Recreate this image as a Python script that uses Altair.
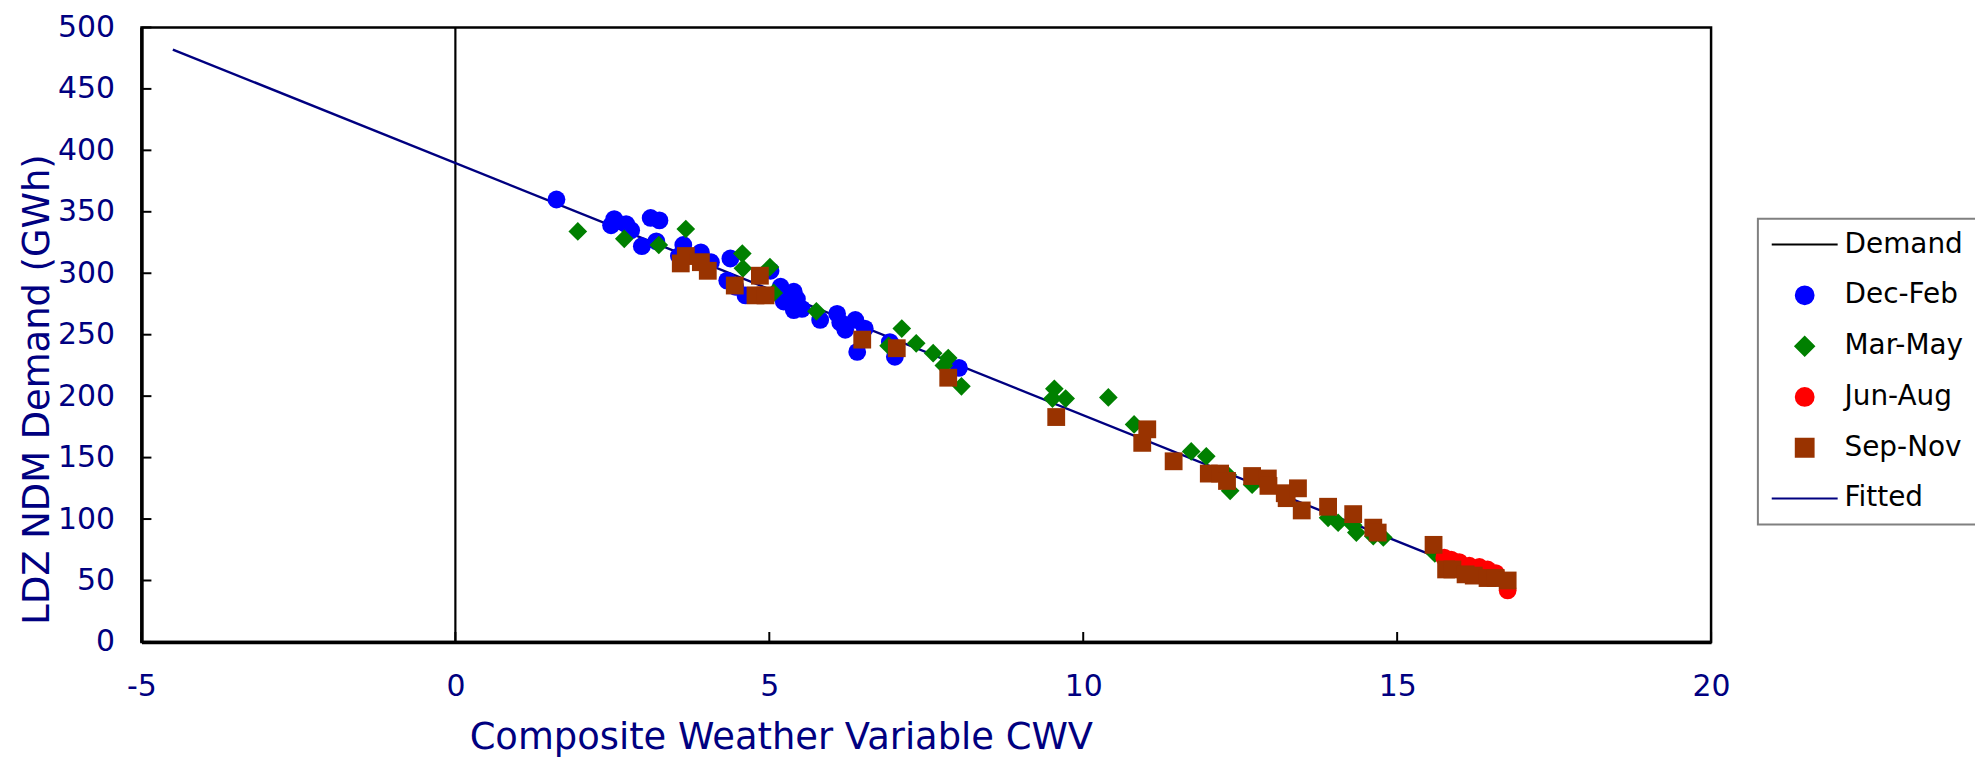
import altair as alt
import pandas as pd

# ---------------- data ----------------
dec_feb_x = [1.61, 2.53, 2.48, 2.72, 2.80, 3.11, 3.25, 2.97, 3.20, 3.63, 3.56, 3.91, 4.07, 4.38,
             4.33, 4.46, 4.62, 5.02, 5.18, 5.39, 5.44, 5.23, 5.39, 5.52, 5.81, 6.08, 6.13, 6.37,
             6.52, 6.21, 6.40, 6.92, 7.00, 8.02]
dec_feb_y = [360, 344, 339, 340, 335, 345, 343, 322, 326, 323, 314, 317, 309, 312,
             294, 289, 282, 302, 289, 285, 279, 277, 270, 271, 262, 267, 260, 262,
             255, 254, 236, 244, 232, 223]

mar_may_x = [1.95, 2.69, 3.24, 3.67, 4.57, 4.58, 5.01, 5.07, 5.75, 6.90, 7.11, 7.34, 7.61, 7.85,
             7.78, 8.06, 9.54, 9.51, 9.72, 10.40, 10.81, 11.72, 11.96, 12.30, 12.34, 12.69,
             13.90, 14.06, 14.30, 14.35, 14.62, 14.78, 15.60]
mar_may_y = [334, 328, 323, 336, 316, 304, 305, 284, 269, 241, 255, 243, 235, 231,
             225, 208, 206, 198, 198, 199, 177, 155, 151, 136, 123, 128,
             101, 97, 95, 89, 86, 85, 72]

jun_aug_x = [15.75, 15.86, 15.99, 16.15, 16.31, 16.44, 16.57, 16.76]
jun_aug_y = [68.6, 67, 65, 62, 61, 59, 56, 42]

sep_nov_x = [3.67, 3.59, 3.91, 4.02, 4.45, 4.85, 4.78, 4.94, 6.48, 7.03, 7.85, 9.57, 11.02,
             10.94, 11.44, 12.00, 12.18, 12.29, 12.69, 12.94, 12.95, 13.21, 13.24, 13.42,
             13.48, 13.90, 14.30, 14.62, 14.69, 15.58, 15.78, 15.88, 16.09, 16.22, 16.44,
             16.57, 16.76]
sep_nov_y = [314, 308, 309, 302, 290, 298, 282, 282, 246, 239, 215, 183, 173,
             162, 147, 137, 137, 131, 135, 133, 127, 121, 117, 125,
             107, 110, 104, 93, 89, 79, 59, 59, 55, 54, 52,
             52, 50]

fitted_x = [-4.5, 16.8]
fitted_y = [482, 45]

demand_x = [0]
demand_y = [0]
demand_y2 = [500]

x_tick_values = [-5, 0, 5, 10, 15, 20]
y_tick_values = [0, 50, 100, 150, 200, 250, 300, 350, 400, 450, 500]

series_names = ["Demand", "Dec-Feb", "Mar-May", "Jun-Aug", "Sep-Nov", "Fitted"]
series_colors = ["#000000", "#0000FF", "#008000", "#FF0000", "#993300", "#000080"]
LINE_PATH = "M-3.7,0L3.7,0"
DIAMOND_PATH = "M-1.05,0L0,-1.05L1.05,0L0,1.05Z"
series_shapes = [LINE_PATH, "circle", DIAMOND_PATH, "circle", "square", LINE_PATH]

# ---------------- tables ----------------
rows = []
for name, xs, ys in [("Dec-Feb", dec_feb_x, dec_feb_y), ("Mar-May", mar_may_x, mar_may_y),
                     ("Jun-Aug", jun_aug_x, jun_aug_y), ("Sep-Nov", sep_nov_x, sep_nov_y)]:
    for xv, yv in zip(xs, ys):
        rows.append({"x": xv, "y": yv, "series": name})
pts_df = pd.DataFrame(rows)
fit_df = pd.DataFrame({"x": fitted_x, "y": fitted_y})
dem_df = pd.DataFrame({"x": demand_x, "y": demand_y, "y2": demand_y2})
xt_df = pd.DataFrame({"x": x_tick_values})
yt_df = pd.DataFrame({"y": y_tick_values})

W, H = 1576, 617
FONT = "DejaVu Sans"
NAVY = "#000080"
MARK_SIZE = 320

x_scale = alt.Scale(domain=[-5, 20], nice=False, zero=False)
y_scale = alt.Scale(domain=[0, 500], nice=False, zero=False)

x_axis = alt.Axis(values=x_tick_values, ticks=False, grid=False, domain=True,
                  domainColor="black", domainWidth=3.5,
                  labelExpr="'' + datum.value",
                  labelFont=FONT, labelFontSize=30, labelColor=NAVY,
                  labelBaseline="middle", labelPadding=45, labelFlush=False,
                  title="Composite Weather Variable CWV", titleFont=FONT,
                  titleFontSize=37, titleFontWeight="normal", titleColor=NAVY,
                  titleX=642, titleY=107, titleAlign="center", titleBaseline="alphabetic")
y_axis = alt.Axis(values=y_tick_values, ticks=False, grid=False, domain=True,
                  domainColor="black", domainWidth=3.5,
                  labelExpr="'' + datum.value",
                  labelFont=FONT, labelFontSize=30, labelColor=NAVY,
                  labelPadding=27, labelFlush=False,
                  title="LDZ NDM Demand (GWh)", titleFont=FONT,
                  titleFontSize=37, titleFontWeight="normal", titleColor=NAVY,
                  titleX=-104, titleY=363, titleAngle=270, titleAlign="center",
                  titleBaseline="middle")

legend = alt.Legend(title=None, orient="none", legendX=1623, legendY=192,
                    fillColor="white", strokeColor="#808080", padding=12,
                    labelFont=FONT, labelFontSize=28, labelColor="black",
                    symbolOffset=21, labelOffset=26,
                    rowPadding=23, clipHeight=28,
                    symbolSize=MARK_SIZE, symbolStrokeWidth=2, symbolOpacity=1)

ticks_x = alt.Chart(xt_df).mark_rule(color="black", strokeWidth=2).encode(
    x=alt.X("x:Q", scale=x_scale, axis=x_axis),
    y=alt.value(H), y2=alt.value(H - 10))
ticks_y = alt.Chart(yt_df).mark_rule(color="black", strokeWidth=2).encode(
    y=alt.Y("y:Q", scale=y_scale, axis=y_axis),
    x=alt.value(0), x2=alt.value(10))

demand = alt.Chart(dem_df).mark_rule(color="black", strokeWidth=2.2).encode(
    x=alt.X("x:Q", scale=x_scale), y=alt.Y("y:Q", scale=y_scale), y2="y2:Q")

fitted = alt.Chart(fit_df).mark_line(color=NAVY, strokeWidth=2.4).encode(
    x=alt.X("x:Q", scale=x_scale), y=alt.Y("y:Q", scale=y_scale))

points = alt.Chart(pts_df).mark_point(filled=True, opacity=1, strokeWidth=0,
                                      size=MARK_SIZE).encode(
    x=alt.X("x:Q", scale=x_scale),
    y=alt.Y("y:Q", scale=y_scale),
    fill=alt.Fill("series:N", scale=alt.Scale(domain=series_names, range=series_colors),
                  legend=legend, sort=series_names),
    stroke=alt.Stroke("series:N", scale=alt.Scale(domain=series_names, range=series_colors),
                      legend=legend, sort=series_names),
    shape=alt.Shape("series:N", scale=alt.Scale(domain=series_names, range=series_shapes),
                    legend=legend, sort=series_names),
)

chart = alt.layer(ticks_x, ticks_y, demand, fitted, points).properties(
    width=W, height=H,
    padding={"left": 134, "top": 18, "right": 265, "bottom": 115},
    autosize=alt.AutoSizeParams(type="none"),
    background="white",
).configure_view(stroke="black", strokeWidth=2.5).configure_legend(strokeWidth=2)

chart.save("out.html", embed_options={"renderer": "svg", "actions": False})
